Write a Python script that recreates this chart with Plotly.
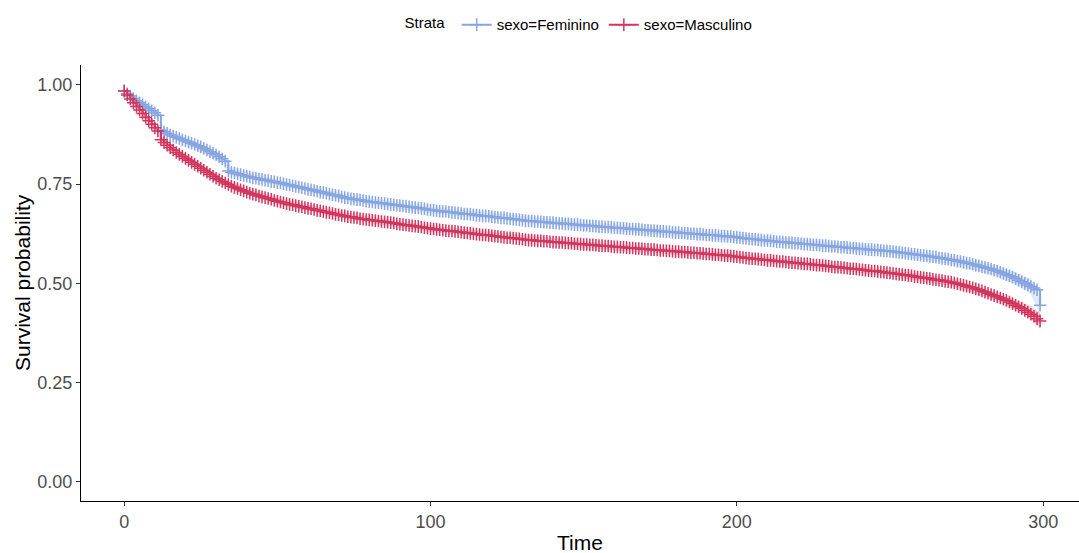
import plotly.graph_objects as go

time = list(range(0, 300))

feminino = [
    0.985, 0.978, 0.972, 0.966, 0.960, 0.955, 0.950, 0.945, 0.940, 0.935,
    0.930, 0.924, 0.886, 0.882, 0.878, 0.874, 0.871, 0.868, 0.865, 0.862,
    0.859, 0.856, 0.853, 0.850, 0.847, 0.844, 0.840, 0.836, 0.832, 0.828,
    0.824, 0.819, 0.814, 0.808, 0.783, 0.780, 0.778, 0.776, 0.774, 0.772,
    0.770, 0.768, 0.766, 0.765, 0.763, 0.762, 0.760, 0.759, 0.757, 0.756,
    0.754, 0.753, 0.751, 0.749, 0.748, 0.746, 0.744, 0.743, 0.741, 0.739,
    0.737, 0.736, 0.734, 0.732, 0.730, 0.729, 0.727, 0.725, 0.723, 0.722,
    0.720, 0.718, 0.716, 0.715, 0.713, 0.712, 0.711, 0.710, 0.709, 0.707,
    0.706, 0.705, 0.704, 0.703, 0.702, 0.701, 0.700, 0.699, 0.698, 0.697,
    0.696, 0.695, 0.694, 0.693, 0.692, 0.691, 0.690, 0.689, 0.688, 0.686,
    0.685, 0.684, 0.683, 0.682, 0.681, 0.681, 0.680, 0.679, 0.678, 0.677,
    0.676, 0.675, 0.675, 0.674, 0.673, 0.672, 0.671, 0.670, 0.670, 0.669,
    0.668, 0.667, 0.666, 0.665, 0.665, 0.664, 0.663, 0.662, 0.661, 0.660,
    0.659, 0.658, 0.657, 0.657, 0.656, 0.656, 0.655, 0.654, 0.654, 0.653,
    0.653, 0.652, 0.651, 0.651, 0.650, 0.650, 0.649, 0.648, 0.648, 0.647,
    0.646, 0.646, 0.645, 0.645, 0.644, 0.643, 0.643, 0.642, 0.642, 0.641,
    0.640, 0.640, 0.639, 0.639, 0.638, 0.637, 0.637, 0.636, 0.636, 0.635,
    0.634, 0.634, 0.633, 0.633, 0.632, 0.631, 0.631, 0.630, 0.630, 0.629,
    0.628, 0.628, 0.627, 0.627, 0.626, 0.625, 0.625, 0.624, 0.624, 0.623,
    0.622, 0.622, 0.621, 0.621, 0.620, 0.619, 0.619, 0.618, 0.618, 0.617,
    0.616, 0.615, 0.614, 0.613, 0.612, 0.611, 0.611, 0.610, 0.609, 0.608,
    0.608, 0.607, 0.606, 0.605, 0.605, 0.604, 0.603, 0.603, 0.602, 0.601,
    0.601, 0.600, 0.599, 0.599, 0.598, 0.597, 0.597, 0.596, 0.595, 0.595,
    0.594, 0.593, 0.593, 0.592, 0.591, 0.591, 0.590, 0.589, 0.589, 0.588,
    0.587, 0.587, 0.586, 0.585, 0.585, 0.584, 0.584, 0.583, 0.582, 0.582,
    0.581, 0.580, 0.579, 0.578, 0.577, 0.576, 0.575, 0.574, 0.573, 0.572,
    0.571, 0.570, 0.569, 0.568, 0.567, 0.566, 0.564, 0.563, 0.562, 0.561,
    0.559, 0.558, 0.556, 0.555, 0.553, 0.551, 0.550, 0.548, 0.546, 0.544,
    0.542, 0.540, 0.538, 0.536, 0.533, 0.531, 0.528, 0.525, 0.522, 0.519,
    0.516, 0.512, 0.508, 0.504, 0.500, 0.496, 0.492, 0.488, 0.484, 0.445,
]

masculino = [
    0.985, 0.975, 0.965, 0.955, 0.946, 0.937, 0.928, 0.919, 0.910, 0.901,
    0.892, 0.884, 0.862, 0.855, 0.848, 0.842, 0.836, 0.830, 0.825, 0.820,
    0.815, 0.810, 0.805, 0.800, 0.795, 0.790, 0.785, 0.780, 0.775, 0.770,
    0.765, 0.761, 0.757, 0.753, 0.749, 0.745, 0.742, 0.739, 0.736, 0.733,
    0.730, 0.727, 0.725, 0.723, 0.720, 0.718, 0.716, 0.714, 0.712, 0.709,
    0.707, 0.705, 0.703, 0.701, 0.699, 0.698, 0.696, 0.694, 0.693, 0.691,
    0.689, 0.688, 0.686, 0.684, 0.683, 0.681, 0.679, 0.678, 0.676, 0.674,
    0.673, 0.671, 0.670, 0.668, 0.667, 0.666, 0.665, 0.663, 0.662, 0.661,
    0.660, 0.659, 0.658, 0.657, 0.656, 0.655, 0.654, 0.653, 0.652, 0.650,
    0.649, 0.648, 0.647, 0.646, 0.645, 0.644, 0.643, 0.642, 0.640, 0.639,
    0.638, 0.637, 0.636, 0.635, 0.634, 0.633, 0.632, 0.632, 0.631, 0.630,
    0.629, 0.628, 0.627, 0.626, 0.625, 0.624, 0.623, 0.622, 0.622, 0.621,
    0.620, 0.619, 0.618, 0.617, 0.616, 0.615, 0.615, 0.614, 0.613, 0.612,
    0.611, 0.610, 0.609, 0.609, 0.608, 0.607, 0.607, 0.606, 0.606, 0.605,
    0.604, 0.604, 0.603, 0.603, 0.602, 0.601, 0.601, 0.600, 0.600, 0.599,
    0.598, 0.598, 0.597, 0.597, 0.596, 0.595, 0.595, 0.594, 0.594, 0.593,
    0.592, 0.592, 0.591, 0.591, 0.590, 0.589, 0.589, 0.588, 0.588, 0.587,
    0.586, 0.586, 0.585, 0.585, 0.584, 0.583, 0.583, 0.582, 0.582, 0.581,
    0.580, 0.580, 0.579, 0.579, 0.578, 0.577, 0.577, 0.576, 0.576, 0.575,
    0.574, 0.574, 0.573, 0.572, 0.572, 0.571, 0.570, 0.570, 0.569, 0.568,
    0.567, 0.566, 0.565, 0.564, 0.563, 0.562, 0.562, 0.561, 0.560, 0.559,
    0.558, 0.558, 0.557, 0.556, 0.555, 0.555, 0.554, 0.553, 0.552, 0.552,
    0.551, 0.550, 0.549, 0.549, 0.548, 0.547, 0.546, 0.546, 0.545, 0.544,
    0.543, 0.542, 0.541, 0.541, 0.540, 0.539, 0.538, 0.537, 0.537, 0.536,
    0.535, 0.534, 0.533, 0.532, 0.531, 0.531, 0.530, 0.529, 0.528, 0.527,
    0.526, 0.525, 0.524, 0.523, 0.522, 0.521, 0.520, 0.519, 0.517, 0.516,
    0.515, 0.514, 0.513, 0.512, 0.510, 0.509, 0.508, 0.507, 0.505, 0.504,
    0.503, 0.501, 0.499, 0.497, 0.495, 0.493, 0.491, 0.489, 0.486, 0.484,
    0.481, 0.478, 0.475, 0.472, 0.469, 0.466, 0.463, 0.460, 0.457, 0.453,
    0.449, 0.445, 0.441, 0.437, 0.432, 0.427, 0.422, 0.417, 0.411, 0.405,
]

ci_time = [0, 6, 11, 12, 20, 33, 34, 50, 75, 100, 150, 200, 250, 270, 285, 292, 296, 299]
fem_lower = [0.980, 0.942, 0.915, 0.877, 0.850, 0.799, 0.774, 0.746, 0.704, 0.677, 0.638, 0.607,
             0.572, 0.549, 0.518, 0.492, 0.472, 0.418]
fem_upper = [0.990, 0.958, 0.933, 0.895, 0.868, 0.817, 0.792, 0.762, 0.720, 0.693, 0.654, 0.625,
             0.590, 0.569, 0.544, 0.524, 0.512, 0.472]
masc_lower = [0.980, 0.921, 0.876, 0.854, 0.807, 0.745, 0.741, 0.699, 0.658, 0.630, 0.590, 0.559,
              0.518, 0.494, 0.455, 0.428, 0.410, 0.385]
masc_upper = [0.990, 0.935, 0.892, 0.870, 0.823, 0.761, 0.757, 0.715, 0.674, 0.646, 0.606, 0.575,
              0.534, 0.512, 0.477, 0.454, 0.444, 0.425]

strata = ["sexo=Feminino", "sexo=Masculino"]
x_ticks = [0, 100, 200, 300]
y_ticks = [0.0, 0.25, 0.50, 0.75, 1.00]
y_tick_text = ["0.00", "0.25", "0.50", "0.75", "1.00"]

BLUE = "#86A5E1"
RED = "#D2365E"
BLUE_FILL = "rgba(134,165,225,0.22)"
RED_FILL = "rgba(210,54,94,0.22)"

fig = go.Figure()

for lower, upper, fill in [(fem_lower, fem_upper, BLUE_FILL), (masc_lower, masc_upper, RED_FILL)]:
    fig.add_trace(go.Scatter(x=ci_time, y=lower, mode="lines", line=dict(width=0),
                             showlegend=False, hoverinfo="skip"))
    fig.add_trace(go.Scatter(x=ci_time, y=upper, mode="lines", line=dict(width=0),
                             fill="tonexty", fillcolor=fill, showlegend=False, hoverinfo="skip"))

for name, vals, col in [(strata[0], feminino, BLUE), (strata[1], masculino, RED)]:
    fig.add_trace(go.Scatter(
        x=time, y=vals, name=name, mode="lines+markers",
        line=dict(color=col, width=2, shape="hv"),
        marker=dict(symbol="cross-thin", size=9, line=dict(color=col, width=1.5)),
    ))

fig.update_layout(
    width=1079, height=553,
    margin=dict(l=81, r=0, t=65, b=52),
    paper_bgcolor="white", plot_bgcolor="white",
    font=dict(family="Liberation Sans, Arial, sans-serif", color="black"),
    legend=dict(
        orientation="h", x=0.5, xanchor="center", y=1.092, yanchor="middle",
        traceorder="normal",
        title=dict(text="Strata ", font=dict(size=15)),
        font=dict(size=15), itemwidth=30,
    ),
    showlegend=True,
    annotations=[
        dict(text="Survival probability", xref="paper", yref="paper",
             x=-0.0591, y=0.5, xanchor="center", yanchor="middle", textangle=-90,
             showarrow=False, font=dict(size=21, color="black")),
        dict(text="Time", xref="paper", yref="paper",
             x=0.5, y=-0.0963, xanchor="center", yanchor="middle",
             showarrow=False, font=dict(size=21, color="black")),
    ],
)
fig.update_xaxes(
    range=[-14.1, 311.7], tickvals=x_ticks, ticktext=[str(v) for v in x_ticks],
    showline=True, linecolor="black", linewidth=1, showgrid=False, zeroline=False,
    ticks="outside", ticklen=4, tickcolor="#333333", automargin=False,
    tickfont=dict(size=18, color="#4D4D4D"),
)
fig.update_yaxes(
    range=[-0.0486, 1.0504], tickvals=y_ticks, ticktext=y_tick_text,
    showline=True, linecolor="black", linewidth=1, showgrid=False, zeroline=False,
    ticks="outside", ticklen=4, tickcolor="#333333", automargin=False,
    tickfont=dict(size=18, color="#4D4D4D"),
)

fig.write_html("out.html", config={"displayModeBar": False},
               post_script="document.body.style.margin='0';")
